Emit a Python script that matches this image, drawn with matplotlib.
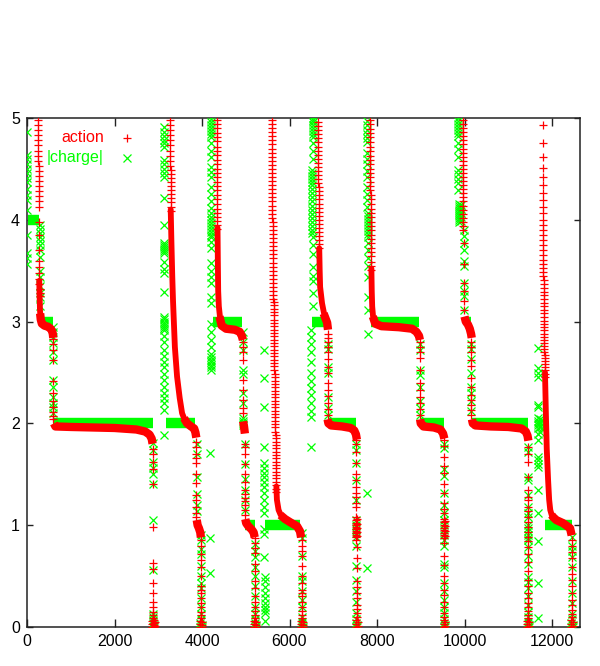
import numpy as np
import matplotlib
matplotlib.use("Agg")
import matplotlib.pyplot as plt

plt.rcParams['font.family'] = ['Liberation Sans Narrow', 'Liberation Sans', 'DejaVu Sans']

RED = "#ff0000"
GREEN = "#00ff00"

# ---------------- data ----------------
x_ticks = [0, 2000, 4000, 6000, 8000, 10000, 12000]
y_ticks = [0, 1, 2, 3, 4, 5]
series_names = ["action", "|charge|"]

# action: sparse points, grouped as (sweep index, [values at that index region])
action_cols = [
    (262, [4.98, 4.93, 4.88, 4.83, 4.78, 4.73, 4.68, 4.63, 4.58]),
    (268, [4.53, 4.48, 4.43, 4.38, 4.33, 4.28, 4.23, 4.18, 4.13]),
    (276, [3.98, 3.85, 3.7, 3.6, 3.54, 3.48, 3.42, 3.37]),
    (286, [3.32, 3.28, 3.25]),
    (600, [2.83, 2.78, 2.72, 2.62, 2.42, 2.3, 2.22, 2.16, 2.11, 2.07, 2.04]),
    (2880, [1.75, 1.7, 1.62, 1.55, 1.4, 0.98, 0.63, 0.57, 0.43, 0.33, 0.25, 0.2, 0.15, 0.12, 0.09]),
    (2860, [0.06, 0.03, 0.0]),
    (2900, [0.07, 0.04, 0.02, 0.0]),
    (2930, [0.05, 0.01]),
    (3265, [4.98, 4.93, 4.88, 4.83, 4.78, 4.73, 4.68, 4.63, 4.58, 4.53]),
    (3280, [4.49, 4.45, 4.41, 4.37, 4.33, 4.29, 4.25, 4.21, 4.17, 4.13, 4.09]),
    (3870, [1.82, 1.77, 1.7, 1.66, 1.61, 1.5, 1.41, 1.3, 1.25, 1.18, 1.12, 1.08]),
    (3980, [0.85, 0.8, 0.72, 0.66, 0.59, 0.5, 0.4, 0.36, 0.33, 0.28, 0.24, 0.2, 0.15, 0.12, 0.09]),
    (3960, [0.06, 0.03, 0.0]),
    (4000, [0.05, 0.02, 0.0]),
    (4345, [4.98, 4.94, 4.9, 4.85, 4.81, 4.77, 4.72, 4.68, 4.64, 4.59, 4.55, 4.5, 4.46]),
    (4352, [4.42, 4.37, 4.33, 4.29, 4.24, 4.2, 4.16, 4.11, 4.07, 4.03, 3.99, 3.95, 3.91]),
    (4940, [2.8, 2.75, 2.7, 2.62, 2.43, 2.33, 2.23, 2.15, 2.1]),
    (4985, [1.8, 1.77, 1.7, 1.6, 1.5, 1.42, 1.35, 1.31, 1.27, 1.24, 1.2, 1.15, 1.1]),
    (5215, [0.87, 0.83, 0.78, 0.73, 0.62, 0.55, 0.45, 0.38, 0.3, 0.25, 0.2, 0.16, 0.12, 0.09]),
    (5195, [0.06, 0.03, 0.0]),
    (5235, [0.05, 0.02, 0.0]),
    (5600, [4.98, 4.94, 4.9, 4.86, 4.82, 4.78, 4.74, 4.7, 4.66, 4.62, 4.58, 4.54, 4.5, 4.46,
            4.42, 4.38, 4.34, 4.3, 4.26, 4.22, 4.18, 4.14, 4.1, 4.06, 4.02]),
    (5615, [3.98, 3.94, 3.9, 3.86, 3.82, 3.78, 3.74, 3.7, 3.66, 3.62, 3.58, 3.54, 3.5, 3.46,
            3.42, 3.38, 3.34, 3.3, 3.26, 3.22]),
    (5635, [3.19, 3.16, 3.12, 3.09, 3.06, 3.02, 2.99, 2.96, 2.92, 2.89, 2.86, 2.82, 2.79, 2.76,
            2.72, 2.69, 2.66, 2.62, 2.59, 2.56, 2.52]),
    (5660, [2.49, 2.46, 2.42, 2.39, 2.36, 2.32, 2.29, 2.26, 2.22, 2.19, 2.16, 2.12, 2.09, 2.06,
            2.02, 1.99, 1.96, 1.92]),
    (5690, [1.89, 1.86, 1.82, 1.79, 1.76, 1.72, 1.69, 1.66, 1.62, 1.59, 1.56, 1.52, 1.49, 1.46,
            1.42, 1.39, 1.36, 1.33]),
    (6290, [0.85, 0.8, 0.75, 0.7, 0.6, 0.5, 0.43, 0.36, 0.33, 0.3, 0.25, 0.2, 0.16, 0.12, 0.09]),
    (6270, [0.06, 0.03, 0.0]),
    (6310, [0.05, 0.02, 0.0]),
    (6640, [4.96, 4.92, 4.88, 4.84, 4.8, 4.76, 4.72, 4.68, 4.64, 4.6, 4.56, 4.52, 4.48, 4.44, 4.4, 4.36]),
    (6665, [4.32, 4.28, 4.24, 4.2, 4.16, 4.12, 4.08, 4.04, 4.0, 3.96, 3.92, 3.88, 3.84, 3.8, 3.76, 3.72]),
    (6870, [2.88, 2.84, 2.8, 2.75, 2.7, 2.63, 2.55, 2.5, 2.4, 2.33, 2.27, 2.2, 2.14, 2.08]),
    (7530, [1.84, 1.8, 1.72, 1.61, 1.5, 1.44, 1.38, 1.32, 1.28, 1.22, 1.18]),
    (7520, [1.08, 1.05, 1.02, 1.0, 0.98, 0.96, 0.94, 0.92, 0.9, 0.88, 0.85]),
    (7545, [1.06, 1.01, 0.97, 0.93, 0.89]),
    (7535, [0.79, 0.68, 0.58, 0.45, 0.39, 0.33, 0.28, 0.22, 0.18, 0.14, 0.1]),
    (7515, [0.07, 0.03, 0.0]),
    (7555, [0.05, 0.01]),
    (7850, [4.98, 4.94, 4.89, 4.85, 4.81, 4.76, 4.72, 4.68, 4.63, 4.59, 4.55, 4.5, 4.46, 4.42,
            4.37, 4.33, 4.29]),
    (7865, [4.24, 4.2, 4.16, 4.11, 4.07, 4.03, 3.98, 3.94, 3.9, 3.85, 3.81, 3.77, 3.72, 3.68,
            3.64, 3.59, 3.55, 3.51]),
    (8985, [2.8, 2.75, 2.7, 2.64, 2.52, 2.4, 2.33, 2.26, 2.2, 2.14, 2.08]),
    (9535, [1.84, 1.78, 1.67, 1.58, 1.51, 1.4, 1.32, 1.22, 1.16, 1.12]),
    (9525, [1.06, 1.03, 1.0, 0.97, 0.95, 0.92, 0.9, 0.87, 0.83]),
    (9550, [1.04, 0.99, 0.94, 0.89]),
    (9540, [0.7, 0.61, 0.5, 0.43, 0.36, 0.31, 0.25, 0.2, 0.14, 0.1]),
    (9520, [0.07, 0.03, 0.0]),
    (9560, [0.05, 0.01]),
    (9955, [4.98, 4.94, 4.9, 4.86, 4.82, 4.78, 4.74, 4.7, 4.66, 4.62, 4.58, 4.54, 4.5, 4.46]),
    (9975, [4.42, 4.38, 4.34, 4.3, 4.26, 4.22, 4.18, 4.14, 4.1, 4.06, 4.02, 3.98, 3.94, 3.9]),
    (9990, [3.77, 3.57, 3.38, 3.3, 3.2, 3.11]),
    (10150, [2.8, 2.75, 2.7, 2.62, 2.56, 2.45, 2.36, 2.28, 2.23, 2.18, 2.13, 2.08]),
    (11455, [1.77, 1.7, 1.62, 1.47, 1.35, 1.28, 1.25, 1.18, 1.14, 1.08, 1.03, 0.98, 0.93, 0.88,
             0.84, 0.79, 0.72, 0.64, 0.55, 0.46, 0.4, 0.33, 0.28, 0.24, 0.2, 0.16, 0.12, 0.09]),
    (11435, [0.06, 0.03, 0.0]),
    (11475, [0.05, 0.01]),
    (11795, [4.93, 4.75, 4.62, 4.51, 4.42, 4.34, 4.26, 4.19, 4.13, 4.07, 4.0, 3.95, 3.9, 3.85,
             3.8, 3.75, 3.7, 3.65, 3.61, 3.57, 3.53, 3.49, 3.45]),
    (11810, [3.41, 3.37, 3.33, 3.29, 3.26, 3.22, 3.18, 3.15, 3.11, 3.08, 3.05, 3.01, 2.98, 2.95,
             2.92, 2.88, 2.85, 2.82, 2.79, 2.76, 2.73, 2.7]),
    (11830, [2.67, 2.64, 2.61, 2.58, 2.55, 2.52, 2.49, 2.46]),
    (12460, [0.85, 0.8, 0.74, 0.68, 0.59, 0.52, 0.46, 0.4, 0.33, 0.27, 0.22, 0.17, 0.13, 0.1]),
    (12440, [0.07, 0.03, 0.0]),
    (12480, [0.05, 0.01]),
]

# action: steep but dense decays, as (sweep, value) readings
action_decays = [
    [(280, 3.4), (288, 3.25), (296, 3.12), (310, 3.03)],
    [(3285, 4.1), (3300, 3.8), (3320, 3.45), (3338, 3.2), (3380, 2.75), (3430, 2.46),
     (3490, 2.25), (3545, 2.1), (3600, 2.04)],
    [(4355, 3.92), (4362, 3.6), (4370, 3.3), (4385, 3.15), (4410, 3.05)],
    [(5700, 1.38), (5712, 1.25), (5750, 1.15), (5800, 1.1)],
    [(6680, 3.72), (6690, 3.5), (6700, 3.34), (6744, 3.18), (6790, 3.08)],
    [(7872, 3.52), (7880, 3.3), (7890, 3.15), (7910, 3.05)],
    [(11840, 2.5), (11860, 2.1), (11880, 1.75), (11910, 1.45), (11935, 1.25), (11960, 1.15),
     (12000, 1.09)],
]

# action: plateaus, as (sweep, value) readings
action_plateaus = [
    [(300, 3.08), (315, 3.02), (340, 2.98), (400, 2.96), (480, 2.95), (540, 2.93),
     (570, 2.91), (590, 2.88), (600, 2.84)],
    [(615, 2.0), (650, 1.97), (1000, 1.965), (2000, 1.955), (2500, 1.94), (2700, 1.92),
     (2800, 1.89), (2850, 1.85), (2870, 1.8)],
    [(3590, 2.05), (3660, 2.0), (3750, 1.97), (3820, 1.95), (3850, 1.91), (3870, 1.86)],
    [(3880, 1.05), (3900, 1.0), (3930, 0.97), (3960, 0.93), (3975, 0.88)],
    [(4400, 3.05), (4450, 2.96), (4550, 2.93), (4750, 2.92), (4860, 2.9), (4910, 2.86),
     (4935, 2.82)],
    [(4940, 2.02), (4960, 1.97), (4980, 1.9)],
    [(4990, 1.06), (5010, 1.02), (5060, 0.99), (5130, 0.96), (5180, 0.93), (5205, 0.88)],
    [(5790, 1.1), (5900, 1.06), (6012, 1.03), (6172, 0.99), (6240, 0.94), (6265, 0.88)],
    [(6780, 3.08), (6860, 2.99), (6880, 2.92)],
    [(6870, 2.04), (6890, 2.0), (6950, 1.98), (7200, 1.97), (7400, 1.955), (7480, 1.93),
     (7520, 1.89), (7540, 1.84)],
    [(7905, 3.05), (7960, 2.98), (8100, 2.955), (8500, 2.945), (8800, 2.93), (8900, 2.9),
     (8960, 2.86), (8980, 2.82)],
    [(8985, 2.04), (9000, 2.0), (9060, 1.97), (9300, 1.96), (9450, 1.94), (9510, 1.9), (9540, 1.85)],
    [(10000, 3.05), (10030, 3.0), (10080, 2.97), (10120, 2.93), (10150, 2.88), (10165, 2.84)],
    [(10170, 2.04), (10190, 2.0), (10250, 1.98), (10600, 1.97), (11000, 1.965), (11300, 1.95),
     (11400, 1.92), (11440, 1.88), (11460, 1.83)],
    [(11990, 1.1), (12024, 1.08), (12100, 1.05), (12253, 1.02), (12413, 0.97), (12450, 0.9)],
]

# |charge|: sparse points
charge_cols = [
    (0, [4.86, 4.64, 4.6, 4.55, 4.5, 4.46, 4.41, 4.37, 4.3, 4.24, 4.19, 4.1, 3.85, 3.67, 3.62, 3.57]),
    (290, [3.95, 3.91, 3.87, 3.83, 3.79, 3.75, 3.7, 3.63, 3.5, 3.44, 3.35, 3.28, 3.24, 3.15]),
    (600, [2.95, 2.9, 2.85, 2.79, 2.7, 2.62, 2.43, 2.36, 2.26, 2.2, 2.16, 2.1]),
    (2885, [1.81, 1.74, 1.62, 1.56, 1.5, 1.4, 1.05, 0.56, 0.13, 0.1, 0.07]),
    (2870, [0.04, 0.0]),
    (2905, [0.02, 0.0]),
    (3120, [4.91, 4.86, 4.82, 4.78, 4.75, 4.72, 4.59, 4.55, 4.5, 4.46, 4.42, 4.21, 3.95]),
    (3140, [3.77, 3.75, 3.73, 3.71, 3.69, 3.67, 3.59, 3.52, 3.48, 3.29]),
    (3130, [3.05, 3.03, 3.0, 2.98, 2.96, 2.94, 2.92, 2.86, 2.8, 2.72, 2.66, 2.6, 2.55, 2.49,
            2.43, 2.36, 2.3, 2.25, 2.2, 2.13, 1.89]),
    (3875, [1.8, 1.7, 1.47, 1.31, 1.2, 1.14]),
    (3980, [0.9, 0.85, 0.77, 0.72, 0.6, 0.5, 0.43, 0.38, 0.28, 0.2, 0.13, 0.08]),
    (3965, [0.04, 0.0]),
    (3995, [0.02, 0.0]),
    (4183, [1.71, 0.87, 0.53]),
    (4195, [4.99, 4.96, 4.93, 4.9, 4.87, 4.84, 4.81, 4.75, 4.68, 4.62, 4.52, 4.47, 4.42, 4.32,
            4.25, 4.18, 4.12, 4.07]),
    (4215, [4.03, 4.0, 3.97, 3.94, 3.91, 3.88, 3.85, 3.83, 3.78, 3.72, 3.58, 3.5, 3.44, 3.38,
            3.24, 3.18]),
    (4200, [2.98, 2.9, 2.82, 2.75, 2.68, 2.65, 2.62, 2.6, 2.57, 2.55, 2.52]),
    (4945, [2.9, 2.8, 2.72, 2.52, 2.49, 2.3, 2.2, 2.05, 2.02, 2.0, 1.98]),
    (4985, [1.8, 1.6, 1.45, 1.35, 1.25, 1.15]),
    (5215, [0.82, 0.75, 0.69, 0.59, 0.5, 0.4, 0.3, 0.2, 0.13, 0.08]),
    (5200, [0.04, 0.0]),
    (5230, [0.02, 0.0]),
    (5420, [2.72, 2.45, 2.16, 1.77, 1.61, 1.56, 1.51, 1.47, 1.42, 1.38, 1.32, 1.25, 1.18, 1.12,
            0.96, 0.91, 0.69]),
    (5440, [0.49, 0.45, 0.39, 0.33, 0.28, 0.24, 0.2, 0.17, 0.14, 0.06]),
    (6290, [0.92, 0.87, 0.7, 0.5, 0.45, 0.35, 0.27, 0.2, 0.1, 0.05]),
    (6275, [0.02, 0.0]),
    (6305, [0.0]),
    (6540, [5.0, 4.98, 4.96, 4.93, 4.9, 4.87, 4.84, 4.81, 4.75, 4.68, 4.6]),
    (6510, [4.49, 4.46, 4.43, 4.4, 4.37, 4.34, 4.3, 4.26, 4.22, 4.18, 4.14, 4.1, 4.06, 4.02,
            3.98, 3.94, 3.9, 3.87]),
    (6530, [3.83, 3.75, 3.66, 3.54, 3.45, 3.4, 3.28, 3.15]),
    (6500, [2.92, 2.85, 2.78, 2.7, 2.6, 2.5, 2.42, 2.35, 2.28, 2.2, 2.12, 2.06, 1.77]),
    (6870, [2.78, 2.73, 2.55, 2.5, 2.26, 2.15, 2.08]),
    (7530, [1.8, 1.74, 1.61, 1.44, 1.25, 1.05, 1.0, 0.96, 0.92, 0.88, 0.8, 0.6, 0.46, 0.35,
            0.25, 0.14, 0.08]),
    (7515, [0.04, 0.0]),
    (7545, [0.02, 0.0]),
    (7772, [1.32, 0.58]),
    (7760, [4.97, 4.93, 4.88, 4.84, 4.8, 4.76, 4.66, 4.6, 4.55, 4.48, 4.42, 4.32, 4.25, 4.19, 4.13]),
    (7790, [4.07, 4.04, 4.01, 3.98, 3.95, 3.92, 3.89, 3.86, 3.83, 3.77, 3.7, 3.62, 3.55, 3.44,
            3.24, 3.11, 2.88]),
    (8985, [2.78, 2.72, 2.52, 2.48, 2.36, 2.22, 2.15, 2.08]),
    (9535, [1.8, 1.76, 1.55, 1.48, 1.32, 1.2, 1.12, 1.05, 1.0, 0.95, 0.9, 0.85, 0.8, 0.62, 0.59,
            0.43, 0.35, 0.27, 0.2, 0.14, 0.08]),
    (9520, [0.04, 0.0]),
    (9550, [0.02, 0.0]),
    (9850, [5.0, 4.97, 4.94, 4.91, 4.88, 4.85, 4.82, 4.75, 4.7, 4.62, 4.49, 4.45, 4.4, 4.36, 4.29]),
    (9880, [4.16, 4.14, 4.12, 4.1, 4.08, 4.06, 4.04, 4.02, 4.0, 3.98]),
    (9910, [4.15, 4.11, 4.07, 4.03, 3.99]),
    (9985, [3.9, 3.84, 3.77, 3.7, 3.6, 3.55, 3.38, 3.3, 3.25, 3.11]),
    (10150, [2.78, 2.73, 2.63, 2.5, 2.36, 2.3, 2.22, 2.12]),
    (11455, [1.77, 1.72, 1.47, 1.44, 1.3, 1.18, 1.12, 1.08, 1.0, 0.97, 0.94, 0.9, 0.87, 0.85,
             0.79, 0.7, 0.62, 0.49, 0.44, 0.38, 0.3, 0.22, 0.15, 0.1]),
    (11440, [0.05, 0.0]),
    (11470, [0.02, 0.0]),
    (11680, [2.74, 2.54, 2.5, 2.46, 2.18, 2.16, 2.05, 2.02, 2.0, 1.98, 1.95, 1.9, 1.84]),
    (11720, [2.04, 2.0, 1.96, 1.92]),
    (11760, [2.03, 1.99, 1.95]),
    (11670, [1.67, 1.64, 1.6, 1.57, 1.35, 1.12, 0.84, 0.43, 0.09]),
    (12455, [0.88, 0.8, 0.75, 0.69, 0.59, 0.45, 0.33, 0.24, 0.13, 0.08]),
    (12440, [0.04, 0.0]),
    (12470, [0.02, 0.0]),
]

# |charge|: plateaus (start sweep, value), (end sweep, value)
charge_plateaus = [
    [(20, 4.0), (270, 4.0)],
    [(310, 3.0), (590, 3.0)],
    [(600, 2.0), (2880, 2.0)],
    [(3170, 2.0), (3850, 2.0)],
    [(3870, 1.0), (3975, 1.0)],
    [(4260, 3.0), (4920, 3.0)],
    [(4990, 1.0), (5200, 1.0)],
    [(5450, 1.0), (6250, 1.0)],
    [(6520, 3.0), (6830, 3.0)],
    [(6880, 2.0), (7520, 2.0)],
    [(7870, 3.0), (8970, 3.0)],
    [(9000, 2.0), (9530, 2.0)],
    [(10000, 3.0), (10150, 3.0)],
    [(10160, 2.0), (11440, 2.0)],
    [(11840, 1.0), (12450, 1.0)],
]


def expand_cols(cols):
    xs, ys = [], []
    for x, vals in cols:
        for v in vals:
            xs.append(x)
            ys.append(v)
    return np.array(xs, float), np.array(ys, float)


def join_segments(segs):
    xs, ys = [], []
    for seg in segs:
        for x, y in seg:
            xs.append(x)
            ys.append(y)
        xs.append(np.nan)
        ys.append(np.nan)
    return np.array(xs, float), np.array(ys, float)


ax_x, ax_y = expand_cols(action_cols)
cx_x, cx_y = expand_cols(charge_cols)
ad_x, ad_y = join_segments(action_decays)
ap_x, ap_y = join_segments(action_plateaus)
cb_x, cb_y = join_segments(charge_plateaus)

# ---------------- figure ----------------
fig = plt.figure(figsize=(6.0, 6.66), dpi=100)
ax = fig.add_axes([27 / 600, 1 - 627 / 666, 553 / 600, 509 / 666])

ax.plot(cb_x, cb_y, color=GREEN, lw=7.5, solid_capstyle='butt', zorder=2)
ax.plot(cx_x, cx_y, linestyle='none', marker='x', ms=5.5, mew=0.9, color=GREEN, zorder=3)
ax.plot(ad_x, ad_y, color=RED, lw=4.2, solid_capstyle='round', solid_joinstyle='round', zorder=4)
ax.plot(ap_x, ap_y, color=RED, lw=6.0, solid_capstyle='butt', solid_joinstyle='round', zorder=4)
ax.plot(ax_x, ax_y, linestyle='none', marker='+', ms=6, mew=0.9, color=RED, zorder=5)

ax.set_xlim(0, 12640)
ax.set_ylim(0, 5)
ax.set_xticks(x_ticks)
ax.set_yticks(y_ticks)
ax.set_xticklabels([str(t) for t in x_ticks])
ax.set_yticklabels([str(t) for t in y_ticks])
ax.tick_params(axis='x', direction='in', length=6, width=1, top=True, bottom=True,
               labelsize=11.5, pad=5, color='#222222')
ax.tick_params(axis='y', direction='in', length=4, width=1, left=True, right=True,
               labelsize=11.5, pad=5, color='#222222')
for s in ax.spines.values():
    s.set_linewidth(1.1)
    s.set_color('#222222')

# legend (gnuplot style: right-aligned title, sample to the right)
ax.text(0.139, 0.961, series_names[0], transform=ax.transAxes, ha='right', va='center',
        color=RED, fontsize=11.5)
ax.text(0.139, 0.922, series_names[1], transform=ax.transAxes, ha='right', va='center',
        color=GREEN, fontsize=11.5)
ax.plot([0.181], [0.961], transform=ax.transAxes, marker='+', ms=6, mew=0.9, color=RED,
        linestyle='none', clip_on=False)
ax.plot([0.181], [0.922], transform=ax.transAxes, marker='x', ms=5.5, mew=0.9, color=GREEN,
        linestyle='none', clip_on=False)

fig.savefig("out.png", dpi=100)
